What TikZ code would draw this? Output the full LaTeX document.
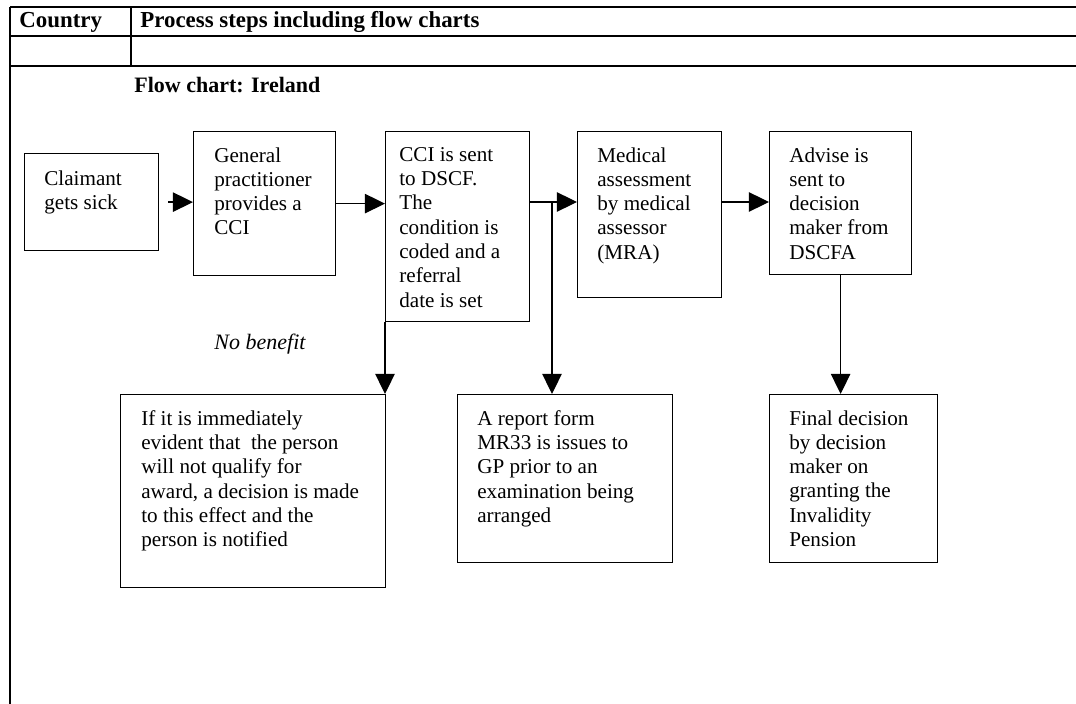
\documentclass[tikz,border=0pt]{standalone}
\usepackage{fontspec}
\setmainfont{Liberation Serif}
\usetikzlibrary{arrows.meta}
\newcommand{\pxu}{0.568pt}
\begin{document}
\begin{tikzpicture}[x=0.568pt,y=-0.568pt,
  rule/.style={line width=1.1pt},
  box/.style 2 args={draw, line width=0.7pt, rectangle, inner sep=0pt, anchor=north west,
    minimum width=#1*\pxu, minimum height=#2*\pxu},
  txt/.style={anchor=north west, inner sep=0pt, align=left,
    font=\fontsize{12}{13.8}\selectfont, execute at begin node=\strut},
  arr/.style={line width=0.7pt, -{Triangle[length=11.4pt,width=11pt]}},
  head/.style={anchor=base west, inner sep=0pt, font=\fontsize{13}{15}\selectfont\bfseries}]
\useasboundingbox (0,0) rectangle (1076,704);

% table frame
\draw[rule] (10,7) -- (1076,7);
\draw[rule] (10,36) -- (1076,36);
\draw[rule] (10,66) -- (1076,66);
\draw[rule] (10,7) -- (10,704);
\draw[rule] (131,7) -- (131,66);
\node[head] (hcountry) at (19,28) {Country};
\node[head] (hsteps) at (140,28) {Process steps including flow charts};
\node[head, font=\fontsize{12.5}{15}\selectfont\bfseries] (htitle) at (134,93) {Flow chart: Ireland};

% top row of steps
\node[box={134}{97}] (claim) at (24,153) {};
\node[txt] (claimt) at ([shift={(20,17)}]claim.north west) {Claimant\\gets sick};

\node[box={142}{144}] (gp) at (193,131) {};
\node[txt] (gpt) at ([shift={(21,16)}]gp.north west) {General\\practitioner\\provides a\\CCI};

\node[box={144}{190}] (cci) at (385,131) {};
\node[txt] (ccit) at ([shift={(14,16)}]cci.north west) {CCI is sent\\to DSCF.\\The\\condition is\\coded and a\\referral\\date is set};

\node[box={144}{166}] (med) at (577,131) {};
\node[txt] (medt) at ([shift={(20,16)}]med.north west) {Medical\\assessment\\by medical\\assessor\\(MRA)};

\node[box={142}{143}] (adv) at (769,131) {};
\node[txt] (advt) at ([shift={(20,16)}]adv.north west) {Advise is\\sent to\\decision\\maker from\\DSCFA};

% bottom row of outcomes
\node[box={265}{193}] (ifb) at (120,394) {};
\node[txt] (ifbt) at ([shift={(21,16)}]ifb.north west) {If it is immediately\\evident that\ \ the person\\will not qualify for\\award, a decision is made\\to this effect and the\\person is notified};

\node[box={215}{168}] (rep) at (457,394) {};
\node[txt] (rept) at ([shift={(20,16)}]rep.north west) {A report form\\MR33 is issues to\\GP prior to an\\examination being\\arranged};

\node[box={168}{168}] (fin) at (769,394) {};
\node[txt] (fint) at ([shift={(20,16)}]fin.north west) {Final decision\\by decision\\maker on\\granting the\\Invalidity\\Pension};

\node[font=\fontsize{12.5}{14}\selectfont\itshape, inner sep=0pt] (nb) at (260,344) {No benefit};

% connectors
\coordinate (jn) at (552,202);
\draw[arr] ([xshift=5pt]claim.east) -- (claim.east -| gp.west);
\draw[arr] (gp.east) -- (gp.east -| cci.west);
\draw[arr] (cci.east |- jn) -- (jn -| med.west);
\draw[arr] (jn) -- (jn |- rep.north);
\draw[arr] (med.east |- jn) -- (jn -| adv.west);
\draw[arr] (adv.south) -- (adv.south |- fin.north);
\draw[arr] (cci.south west) -- (cci.south west |- ifb.north);
\end{tikzpicture}
\end{document}
